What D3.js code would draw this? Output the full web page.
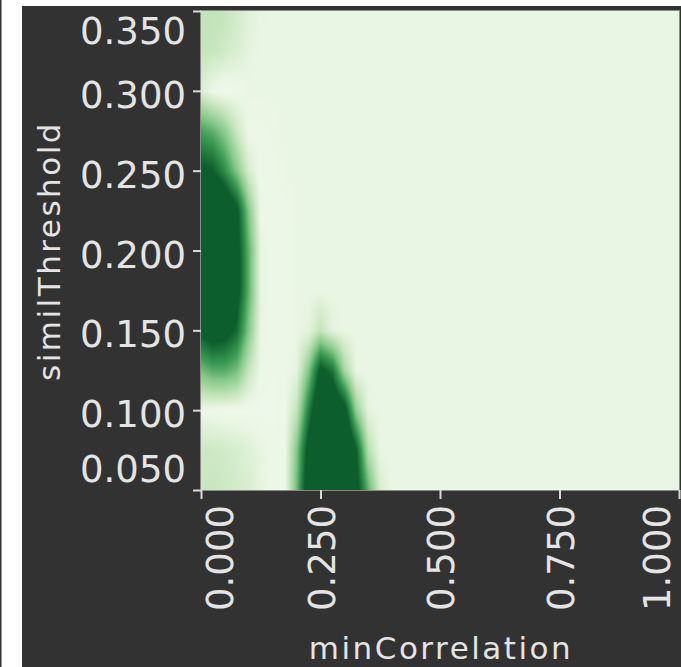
<!DOCTYPE html>
<html lang="en">
<head>
<meta charset="utf-8"/>
<title>minCorrelation vs similThreshold</title>
<script src="https://d3js.org/d3.v7.min.js"></script>
<style>
  body { margin: 0; background: #fff; }
  svg { display: block; }
  .tick text, .title { font-family: "DejaVu Sans", sans-serif; fill: #e4e4e4; }
  .tick line { stroke: #d8d8d8; stroke-width: 2px; }
</style>
</head>
<body>
<div id="chart"></div>
<script>
// sample positions of the grid
var minCorrelation = [0, 0.025, 0.05, 0.075, 0.1, 0.125, 0.15, 0.175, 0.2, 0.225, 0.25, 0.275, 0.3, 0.325, 0.35, 0.375, 0.4, 1.0];
var similThreshold = [0.05, 0.075, 0.1, 0.125, 0.15, 0.175, 0.2, 0.225, 0.25, 0.275, 0.3, 0.325, 0.35];

// one row per similThreshold (bottom to top), one value per minCorrelation
var density = [
  [0.24, 0.24, 0.22, 0.20, 0.17, 0.12, 0.08, 0.07, 0.50, 1.10, 1.30, 1.30, 1.30, 1.00, 0.55, 0.18, 0.10, 0.10],
  [0.22, 0.22, 0.20, 0.18, 0.15, 0.11, 0.08, 0.08, 0.45, 1.00, 1.30, 1.30, 1.30, 0.90, 0.30, 0.10, 0.10, 0.10],
  [0.09, 0.07, 0.06, 0.06, 0.06, 0.06, 0.06, 0.08, 0.25, 0.75, 1.20, 1.20, 1.00, 0.40, 0.12, 0.10, 0.10, 0.10],
  [0.50, 0.58, 0.58, 0.50, 0.25, 0.09, 0.07, 0.08, 0.12, 0.45, 0.95, 0.80, 0.35, 0.10, 0.10, 0.10, 0.10, 0.10],
  [0.95, 1.05, 1.00, 0.85, 0.45, 0.10, 0.07, 0.08, 0.10, 0.12, 0.26, 0.13, 0.10, 0.10, 0.10, 0.10, 0.10, 0.10],
  [1.30, 1.30, 1.25, 1.00, 0.55, 0.12, 0.07, 0.08, 0.10, 0.10, 0.10, 0.10, 0.10, 0.10, 0.10, 0.10, 0.10, 0.10],
  [1.30, 1.30, 1.25, 1.00, 0.55, 0.12, 0.07, 0.08, 0.10, 0.10, 0.10, 0.10, 0.10, 0.10, 0.10, 0.10, 0.10, 0.10],
  [1.30, 1.30, 1.20, 0.95, 0.45, 0.08, 0.07, 0.08, 0.10, 0.10, 0.10, 0.10, 0.10, 0.10, 0.10, 0.10, 0.10, 0.10],
  [0.95, 0.90, 0.70, 0.45, 0.18, 0.07, 0.08, 0.10, 0.10, 0.10, 0.10, 0.10, 0.10, 0.10, 0.10, 0.10, 0.10, 0.10],
  [0.62, 0.55, 0.42, 0.22, 0.08, 0.08, 0.09, 0.10, 0.10, 0.10, 0.10, 0.10, 0.10, 0.10, 0.10, 0.10, 0.10, 0.10],
  [0.17, 0.08, 0.05, 0.07, 0.10, 0.10, 0.10, 0.10, 0.10, 0.10, 0.10, 0.10, 0.10, 0.10, 0.10, 0.10, 0.10, 0.10],
  [0.25, 0.24, 0.21, 0.17, 0.12, 0.10, 0.10, 0.10, 0.10, 0.10, 0.10, 0.10, 0.10, 0.10, 0.10, 0.10, 0.10, 0.10],
  [0.26, 0.26, 0.25, 0.20, 0.14, 0.11, 0.10, 0.10, 0.10, 0.10, 0.10, 0.10, 0.10, 0.10, 0.10, 0.10, 0.10, 0.10]
];

var xTicks = [0, 0.25, 0.5, 0.75, 1];
var yTicks = [0.05, 0.1, 0.15, 0.2, 0.25, 0.3, 0.35];

var width = 681, height = 667;
var plot = {left: 201, right: 679, top: 11, bottom: 490};

var x = d3.scaleLinear().domain([0, 1]).range([plot.left, plot.right]);
var y = d3.scaleLinear().domain([0.05, 0.35]).range([plot.bottom, plot.top]);

var color = d3.scaleLinear()
  .domain([0, 0.1, 0.25, 0.45, 0.65, 0.9])
  .range(["#f5fbf3", "#eaf6e4", "#c5e5bc", "#86c98a", "#3a9a52", "#0c5e2c"])
  .clamp(true);

var svg = d3.select("#chart").append("svg")
  .attr("width", width)
  .attr("height", height);

// dark panel
svg.append("rect")
  .attr("x", 22).attr("y", 6)
  .attr("width", width - 22).attr("height", height - 6)
  .attr("fill", "#323232");
svg.append("rect")
  .attr("x", 0).attr("y", 0)
  .attr("width", 1.5).attr("height", height)
  .attr("fill", "#323232");

// bilinear lookup in the grid
function lookup(arr, v) {
  var i = d3.bisectRight(arr, v) - 1;
  i = Math.max(0, Math.min(arr.length - 2, i));
  var f = (v - arr[i]) / (arr[i + 1] - arr[i]);
  return [i, Math.max(0, Math.min(1, f))];
}

var pw = Math.round(x(1) - x(0)), ph = Math.round(y(0.05) - y(0.35));
var canvas = document.createElement("canvas");
canvas.width = pw; canvas.height = ph;
var ctx = canvas.getContext("2d");
var img = ctx.createImageData(pw, ph);
var xs = [];
for (var i = 0; i < pw; i++) xs.push(lookup(minCorrelation, x.invert(plot.left + i + 0.5)));
for (var j = 0; j < ph; j++) {
  var ly = lookup(similThreshold, y.invert(plot.top + j + 0.5));
  var r0 = density[ly[0]], r1 = density[ly[0] + 1], fy = ly[1];
  for (var i = 0; i < pw; i++) {
    var ix = xs[i][0], fx = xs[i][1];
    var a = r0[ix] * (1 - fx) + r0[ix + 1] * fx;
    var b = r1[ix] * (1 - fx) + r1[ix + 1] * fx;
    var c = d3.rgb(color(a * (1 - fy) + b * fy));
    var k = (j * pw + i) * 4;
    img.data[k] = c.r; img.data[k + 1] = c.g; img.data[k + 2] = c.b; img.data[k + 3] = 255;
  }
}
ctx.putImageData(img, 0, 0);

svg.append("image")
  .attr("x", plot.left).attr("y", plot.top)
  .attr("width", pw).attr("height", ph)
  .attr("preserveAspectRatio", "none")
  .attr("href", canvas.toDataURL());

svg.append("rect")
  .attr("x", plot.left - 0.5).attr("y", plot.top - 0.5)
  .attr("width", pw + 1).attr("height", ph + 1)
  .attr("fill", "none")
  .attr("stroke", "#8a8a8a");

var fmt = d3.format(".3f");

// y axis
var gy = svg.append("g")
  .attr("transform", "translate(" + plot.left + ",0)")
  .call(d3.axisLeft(y).tickValues(yTicks).tickSize(8).tickFormat(fmt));
gy.select(".domain").remove();
gy.selectAll(".tick text")
  .attr("font-size", 37)
  .attr("x", -15)
  .attr("dy", 0)
  .attr("y", function(d) {
    var base = y(d) + 16.5;
    base = Math.max(43, Math.min(481, base));
    return base - y(d);
  });

// x axis
var gx = svg.append("g")
  .attr("transform", "translate(0," + plot.bottom + ")")
  .call(d3.axisBottom(x).tickValues(xTicks).tickSize(9).tickFormat(fmt));
gx.select(".domain").remove();
gx.selectAll(".tick text")
  .attr("font-size", 37)
  .attr("text-anchor", "end")
  .attr("x", null).attr("y", null).attr("dy", null)
  .attr("transform", function(d) {
    var c = Math.max(219, Math.min(656, x(d)));
    return "translate(" + (c + 13.5 - x(d)) + ",15) rotate(-90)";
  });

// titles
svg.append("text")
  .attr("class", "title")
  .attr("x", 441).attr("y", 659)
  .attr("text-anchor", "middle")
  .attr("font-size", 31)
  .attr("letter-spacing", 2.5)
  .text("minCorrelation");

svg.append("text")
  .attr("class", "title")
  .attr("transform", "translate(60,251) rotate(-90)")
  .attr("text-anchor", "middle")
  .attr("font-size", 31)
  .attr("letter-spacing", 2.5)
  .text("similThreshold");
</script>
</body>
</html>
